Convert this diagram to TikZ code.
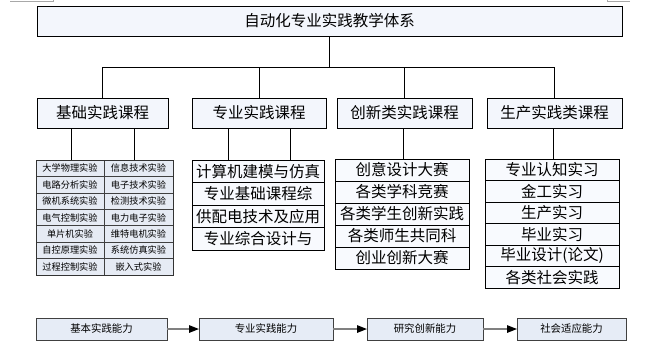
\documentclass[tikz,border=0pt]{standalone}
\usepackage{fontspec}
\newfontfamily\cjk{Noto Sans CJK SC}
\usetikzlibrary{arrows.meta,calc}
\definecolor{boxfill}{HTML}{F3F6FC}
\definecolor{cellfill}{HTML}{F8FAFE}
\definecolor{tabfill}{HTML}{E6EBF4}
\definecolor{botfill}{HTML}{E6ECF6}
\definecolor{markgray}{HTML}{A8A8A8}
\begin{document}
\begin{tikzpicture}[x=1pt,y=-1pt,
  every node/.style={font=\cjk, inner sep=0pt, outer sep=0pt},
  box/.style={draw=black, line width=0.8pt, fill=boxfill, anchor=north west},
  cell/.style={draw=black, line width=0.8pt, fill=cellfill, anchor=north west, font=\cjk\fontsize{15.5}{16}\selectfont},
  tcell/.style={draw=black!75, line width=0.6pt, fill=tabfill, anchor=north west, font=\cjk\fontsize{9.2}{9.5}\selectfont},
  botbox/.style={draw=black!75, line width=1pt, fill=botfill, anchor=north west, minimum height=22pt, font=\cjk\fontsize{10.4}{11}\selectfont},
  conn/.style={draw=black, line width=0.8pt},
  arr/.style={draw=black!50, line width=1.4pt, -{Triangle[length=10pt,width=7.5pt,color=black]}}
]
\useasboundingbox (0,0) rectangle (652,357);
% crop marks
\draw[markgray, line width=0.8pt] (10,1.5) -- (53,1.5) -- (53,0);
\draw[markgray, line width=0.8pt] (630,1.5) -- (607,1.5) -- (607,0);

% title
\node[box, minimum width=585pt, minimum height=30pt, font=\cjk\fontsize{15.5}{16}\selectfont] (title) at (37,6) {自动化专业实践教学体系};

% categories
\node[box, minimum width=131pt, minimum height=30pt, font=\cjk\fontsize{15.5}{16}\selectfont] (cat1) at (37,98) {基础实践课程};
\node[box, minimum width=134pt, minimum height=30pt, font=\cjk\fontsize{15.5}{16}\selectfont] (cat2) at (192,98) {专业实践课程};
\node[box, minimum width=135pt, minimum height=30pt, font=\cjk\fontsize{15.5}{16}\selectfont] (cat3) at (337,98) {创新类实践课程};
\node[box, minimum width=135pt, minimum height=30pt, font=\cjk\fontsize{15.5}{16}\selectfont] (cat4) at (487,98) {生产实践类课程};

\coordinate (bus) at (0,67);
\draw[conn] (title.south) -- (title.south |- bus);
\draw[conn] (cat1.north |- bus) -- (cat4.north |- bus);
\foreach \c in {cat1,cat2,cat3,cat4}{\draw[conn] (\c.north) -- (\c.north |- bus);}

% table 1
\foreach \a/\b [count=\i from 0] in {大学物理实验/信息技术实验,电路分析实验/电子技术实验,微机系统实验/检测技术实验,电气控制实验/电力电子实验,单片机实验/维特电机实验,自控原理实验/系统仿真实验,过程控制实验/嵌入式实验}{
  \node[tcell, minimum width=68pt, minimum height=16.43pt] (ta\i) at (36,160+16.43*\i) {\a};
  \node[tcell, minimum width=69pt, minimum height=16.43pt] (tb\i) at (104,160+16.43*\i) {\b};
}
\draw[black!80, line width=1pt] (ta0.north west) rectangle (tb6.south east);

% column 2
\foreach \t [count=\i from 0] in {计算机建模与仿真,专业基础课程综,供配电技术及应用,专业综合设计与}{
  \node[cell, minimum width=132pt, minimum height=22.5pt] (cb\i) at (192,160+22.5*\i) {\t};
}
% column 3
\foreach \t [count=\i from 0] in {创意设计大赛,各类学科竞赛,各类学生创新实践,各类师生共同科,创业创新大赛}{
  \node[cell, minimum width=134pt, minimum height=22pt] (cc\i) at (335,159+22*\i) {\t};
}
% column 4
\foreach \t [count=\i from 0] in {专业认知实习,金工实习,生产实习,毕业实习,毕业设计(论文),各类社会实践}{
  \node[cell, minimum width=134pt, minimum height=21.5pt] (cd\i) at (485,159+21.5*\i) {\t};
}

% connectors to sub tables
\draw[conn] ([xshift=-31.5pt]cat1.south) -- ([xshift=-31.5pt]cat1.south |- ta0.north);
\draw[conn] ([xshift=31.5pt]cat1.south) -- ([xshift=31.5pt]cat1.south |- ta0.north);
\draw[conn] ([xshift=-31pt]cat2.south) -- ([xshift=-31pt]cat2.south |- cb0.north);
\draw[conn] ([xshift=31pt]cat2.south) -- ([xshift=31pt]cat2.south |- cb0.north);
\draw[conn] ([xshift=-1.5pt]cat3.south) -- ([xshift=-1.5pt]cat3.south |- cc0.north);
\draw[conn] ([xshift=-1.5pt]cat4.south) -- ([xshift=-1.5pt]cat4.south |- cd0.north);

% bottom row
\node[botbox, minimum width=131pt] (b1) at (36,318) {基本实践能力};
\node[botbox, minimum width=134pt] (b2) at (199,318) {专业实践能力};
\node[botbox, minimum width=116pt] (b3) at (367,318) {研究创新能力};
\node[botbox, minimum width=109pt] (b4) at (517,318) {社会适应能力};
\draw[arr] (b1) -- (b2);
\draw[arr] (b2) -- (b3);
\draw[arr] (b3) -- (b4);
\end{tikzpicture}
\end{document}
